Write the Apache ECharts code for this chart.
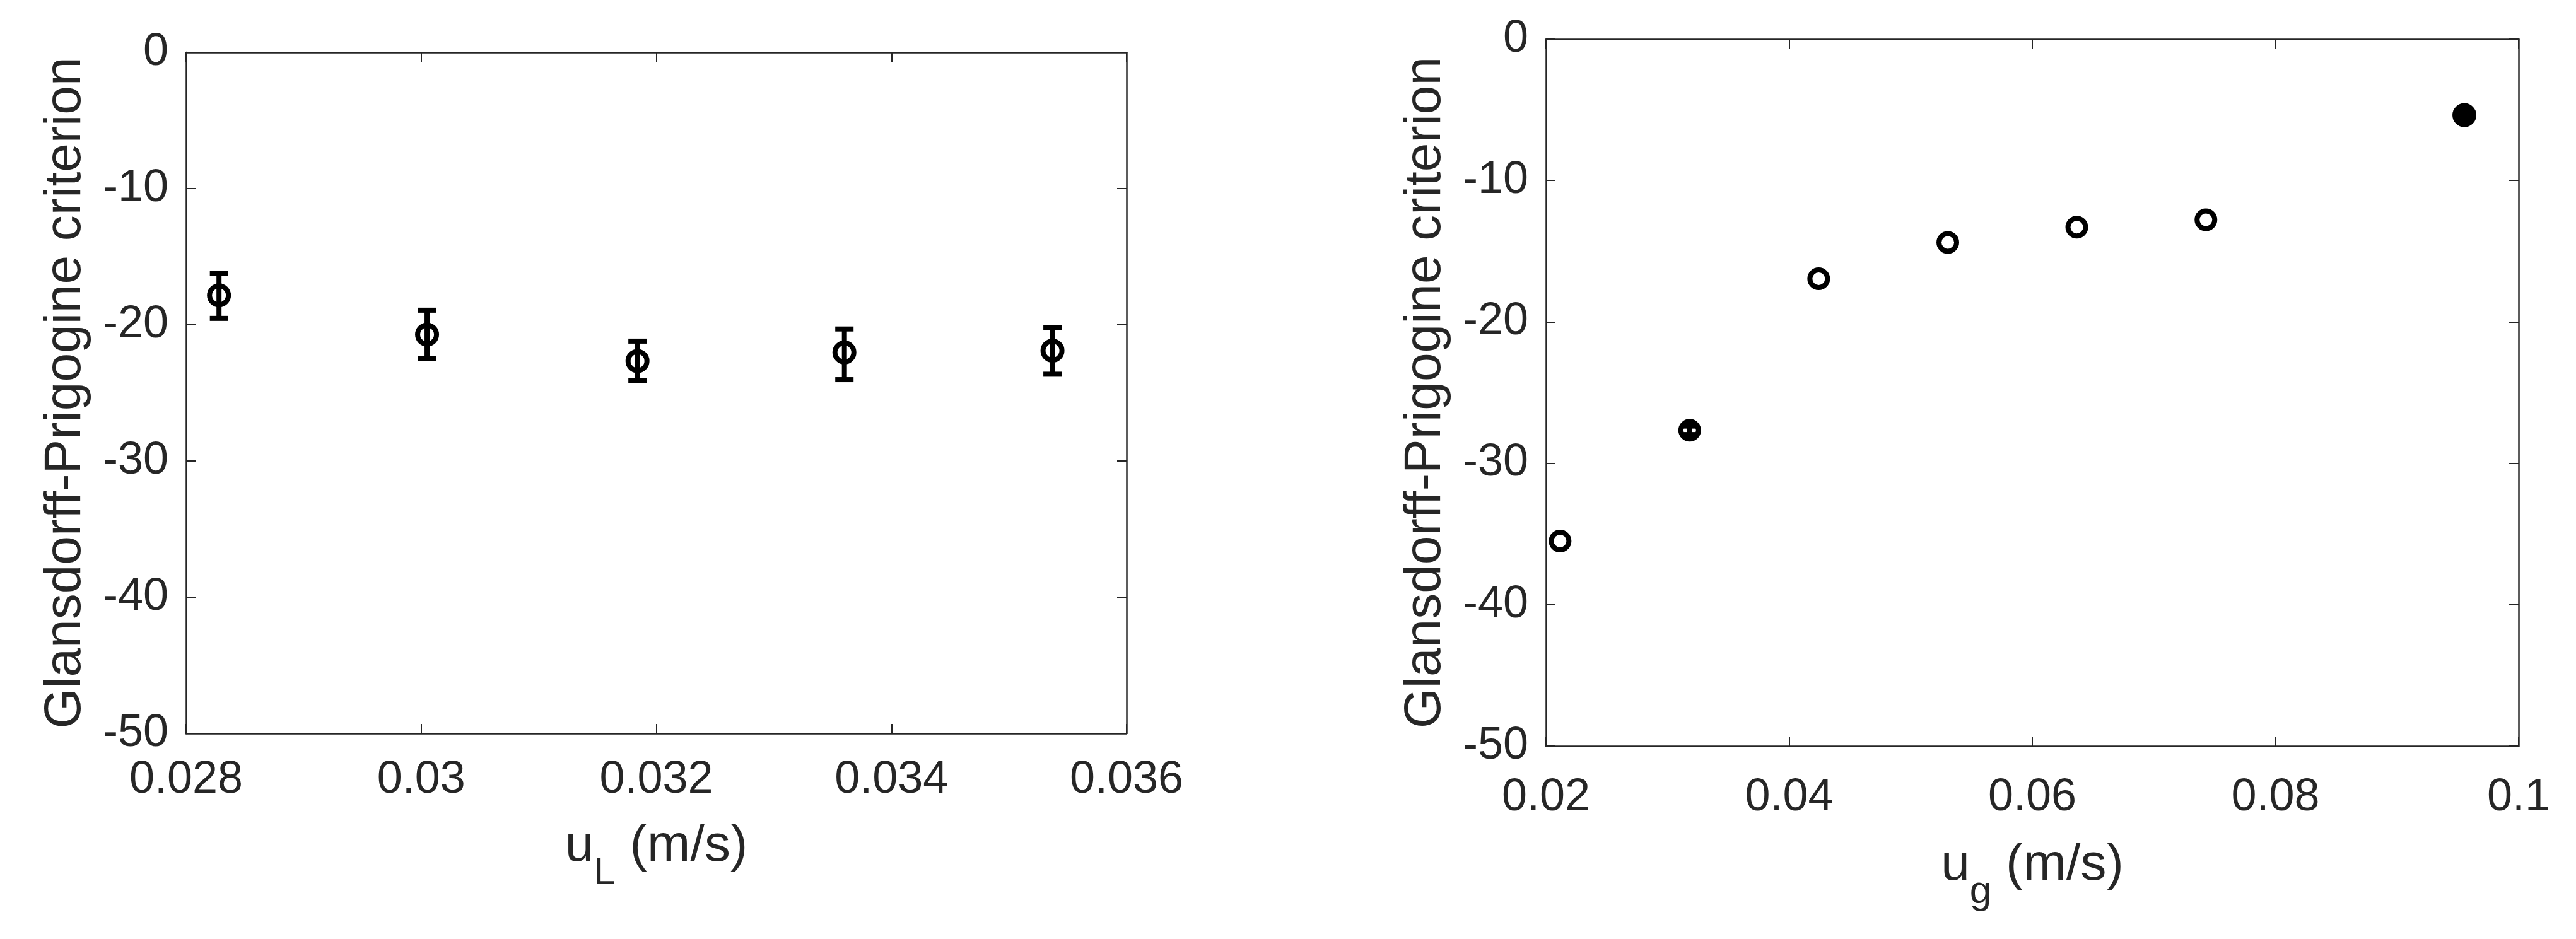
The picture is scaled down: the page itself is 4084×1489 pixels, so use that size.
<!DOCTYPE html>
<html>
<head>
<meta charset="utf-8">
<script src="https://cdn.jsdelivr.net/npm/echarts@6/dist/echarts.min.js"></script>
<style>
html, body { margin: 0; padding: 0; background: #fff; }
#chart { width: 4084px; height: 1489px; }
</style>
</head>
<body>
<div id="chart"></div>
<script>
// left panel: liquid velocity sweep, mean +- error
const uL = [0.02828, 0.03005, 0.03184, 0.03360, 0.03537]
const gpL = [-17.84, -20.72, -22.66, -22.03, -21.90]
const gpLLow = [-19.53, -22.46, -24.12, -24.03, -23.63]
const gpLHigh = [-16.24, -18.93, -21.20, -20.31, -20.19]

// right panel: gas velocity sweep, last point is drawn filled
const ug = [0.02116, 0.03182, 0.04243, 0.05305, 0.06366, 0.07428, 0.09554]
const gpG = [-35.50, -27.67, -16.95, -14.38, -13.30, -12.78, -5.38]
const gpGErr = [0, 0.3, 0, 0, 0, 0, 0]

// tick labels
const xTicksL = [0.028, 0.03, 0.032, 0.034, 0.036]
const xTicksR = [0.02, 0.04, 0.06, 0.08, 0.1]
const yTicks = [-50, -40, -30, -20, -10, 0]

const ink = '#262626'
const font = '"Liberation Sans", Arial, sans-serif'

const chart = echarts.init(document.getElementById('chart'))

const axisBase = (ticks, extra) => Object.assign({
    type: 'value',
    min: ticks[0],
    max: ticks[ticks.length - 1],
    interval: +(ticks[1] - ticks[0]).toFixed(6),
    splitLine: { show: false },
    axisLine: { show: true, onZero: false, lineStyle: { color: ink, width: 2.5 } },
    axisTick: { show: true, inside: true, length: 15, lineStyle: { color: ink, width: 2 } },
    axisLabel: { show: false },
}, extra)

const tickLabel = (margin) => ({
    show: true,
    margin: margin,
    fontSize: 72,
    color: ink,
    fontFamily: font,
    showMinLabel: true,
    showMaxLabel: true,
})

const xName = (sub) => '{a|u}{s|' + sub + '}{a| (m/s)}'
const xNameStyle = {
    color: ink,
    fontFamily: font,
    fontSize: 82,
    rich: {
        a: { fontSize: 82, color: ink, fontFamily: font, verticalAlign: 'top' },
        s: { fontSize: 62, color: ink, fontFamily: font, verticalAlign: 'top', padding: [53, 0, 0, 0] },
    },
}
const yName = 'Glansdorff-Prigogine criterion'
const yNameStyle = { color: ink, fontFamily: font, fontSize: 82 }

// error bar: vertical stem with caps, positions via the axis scales
const renderErr = (params, api) => {
    const x = api.value(0)
    const top = api.coord([x, api.value(2)])
    const bot = api.coord([x, api.value(1)])
    const w = 14.5
    const st = { stroke: '#000', lineWidth: 8 }
    return {
        type: 'group',
        children: [
            { type: 'line', shape: { x1: top[0], y1: top[1], x2: bot[0], y2: bot[1] }, style: st },
            { type: 'line', shape: { x1: top[0] - w, y1: top[1], x2: top[0] + w, y2: top[1] }, style: st },
            { type: 'line', shape: { x1: bot[0] - w, y1: bot[1], x2: bot[0] + w, y2: bot[1] }, style: st },
        ],
    }
}

const errL = uL.map((x, i) => [x, gpLLow[i], gpLHigh[i]])
const errR = ug.map((x, i) => [x, gpG[i] - gpGErr[i], gpG[i] + gpGErr[i]]).filter((d, i) => gpGErr[i] > 0)
const openR = ug.slice(0, 6).map((x, i) => [x, gpG[i]])
const fillR = ug.slice(6).map((x, i) => [x, gpG[i + 6]])

const option = {
    backgroundColor: '#fff',
    animation: false,
    grid: [
        { left: 295, top: 83, width: 1491, height: 1080, outerBoundsMode: 'none' },
        { left: 2451, top: 62, width: 1542, height: 1121, outerBoundsMode: 'none' },
    ],
    xAxis: [
        axisBase(xTicksL, {
            gridIndex: 0, position: 'bottom',
            axisLabel: tickLabel(38),
            name: xName('L'), nameLocation: 'middle', nameGap: 138, nameTextStyle: xNameStyle,
        }),
        axisBase(xTicksL, { gridIndex: 0, position: 'top' }),
        axisBase(xTicksR, {
            gridIndex: 1, position: 'bottom',
            axisLabel: tickLabel(46),
            name: xName('g'), nameLocation: 'middle', nameGap: 148, nameTextStyle: xNameStyle,
        }),
        axisBase(xTicksR, { gridIndex: 1, position: 'top' }),
    ],
    yAxis: [
        axisBase(yTicks, {
            gridIndex: 0, position: 'left',
            axisLabel: tickLabel(28),
            name: yName, nameLocation: 'middle', nameGap: 150, nameTextStyle: yNameStyle,
        }),
        axisBase(yTicks, { gridIndex: 0, position: 'right' }),
        axisBase(yTicks, {
            gridIndex: 1, position: 'left',
            axisLabel: tickLabel(28),
            name: yName, nameLocation: 'middle', nameGap: 150, nameTextStyle: yNameStyle,
        }),
        axisBase(yTicks, { gridIndex: 1, position: 'right' }),
    ],
    series: [
        {
            type: 'custom', xAxisIndex: 0, yAxisIndex: 0, silent: true,
            renderItem: renderErr, encode: { x: 0, y: [1, 2] }, data: errL, z: 2,
        },
        {
            type: 'scatter', xAxisIndex: 0, yAxisIndex: 0, silent: true, z: 3,
            symbol: 'circle', symbolSize: 30,
            itemStyle: { color: 'rgba(0,0,0,0)', borderColor: '#000', borderWidth: 8, opacity: 1 },
            data: uL.map((x, i) => [x, gpL[i]]),
        },
        {
            type: 'custom', xAxisIndex: 2, yAxisIndex: 2, silent: true,
            renderItem: renderErr, encode: { x: 0, y: [1, 2] }, data: errR, z: 2,
        },
        {
            type: 'scatter', xAxisIndex: 2, yAxisIndex: 2, silent: true, z: 3,
            symbol: 'circle', symbolSize: 28,
            itemStyle: { color: 'rgba(0,0,0,0)', borderColor: '#000', borderWidth: 8, opacity: 1 },
            data: openR,
        },
        {
            type: 'scatter', xAxisIndex: 2, yAxisIndex: 2, silent: true, z: 3,
            symbol: 'circle', symbolSize: 38,
            itemStyle: { color: '#000', opacity: 1 },
            data: fillR,
        },
    ],
}

chart.setOption(option)
</script>
</body>
</html>
